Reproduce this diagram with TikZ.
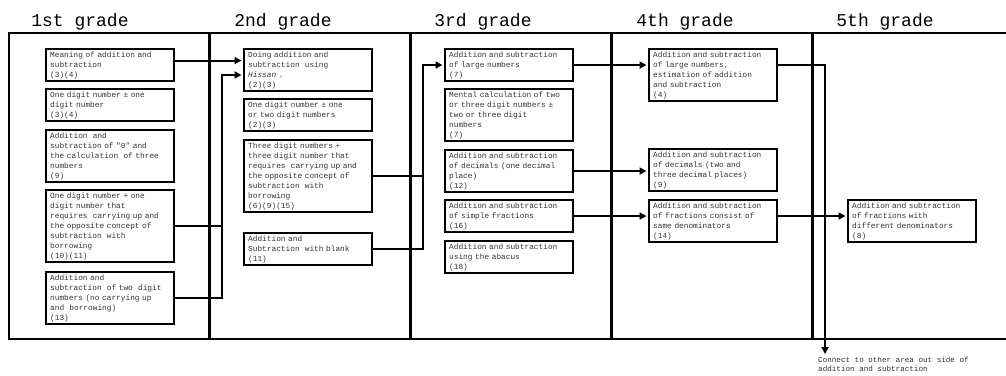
\documentclass[tikz,border=0pt]{standalone}
\usepackage{fontspec}
\setmonofont{Liberation Mono}
\usetikzlibrary{arrows.meta}
\tikzset{topic/.style = {draw, line width = 2.4pt, anchor = north west, text width = 120pt, align = left, inner xsep = 4pt, inner ysep = 2.2pt, text = black!80, font = \ttfamily\fontsize{7.8pt}{10pt}\selectfont}}
\tikzset{grade/.style = {anchor = base, inner sep = 0pt, font = \ttfamily\fontsize{18pt}{20pt}\selectfont}}
\tikzset{note/.style = {anchor = north west, inner sep = 0pt, align = left, text = black!80, font = \ttfamily\fontsize{7.6pt}{9pt}\selectfont}}
\tikzset{link/.style = {line width = 2pt}}
\tikzset{flow/.style = {line width = 2pt, -{Triangle[length = 7pt, width = 7pt]}, shorten > = 1.5pt}}

\begin{document}
\begin{tikzpicture}[x = 1pt, y = -1pt]
      \useasboundingbox (0, 0) rectangle (1006, 375);
      \draw [line width = 2pt] (1006, 33) -- (9, 33) -- (9, 339) -- (1006, 339);
      \foreach \x in {209, 410, 611, 812} {
        \draw [line width = 3pt] (\x, 33) -- (\x, 339);
      }
      \foreach \x/\t [count = \i] in {80/1st, 283/2nd, 483/3rd, 685/4th, 885/5th} {
        \node [grade] (grade\i) at (\x, 26) {\t\ grade};
      }

      \node [topic] (A1) at (45, 48) {Meaning of addition and\\subtraction\\(3)(4)};
      \node [topic] (A2) at (45, 88) {One digit number ± one\\digit number\\(3)(4)};
      \node [topic] (A3) at (45, 129) {Addition~ and\\subtraction of "0" and\\the calculation~ of three\\numbers\\(9)};
      \node [topic] (A4) at (45, 189) {One digit number + one\\digit number that\\requires~ carrying up and\\the opposite concept of\\subtraction~ with\\borrowing\\(10)(11)};
      \node [topic] (A5) at (45, 271) {Addition and\\subtraction~ of two~ digit\\numbers (no carrying up\\and~ borrowing)\\(13)};

      \node [topic] (B1) at (243, 48) {Doing addition and\\subtraction~ using\\\textit{Hissan} .\\(2)(3)};
      \node [topic] (B2) at (243, 98) {One digit number ± one\\or two digit numbers\\(2)(3)};
      \node [topic] (B3) at (243, 139) {Three digit numbers +\\three digit number that\\requires~ carrying up and\\the opposite concept of\\subtraction~ with\\borrowing\\(6)(9)(15)};
      \node [topic] (B4) at (243, 232) {Addition and\\Subtraction~ with blank\\(11)};

      \node [topic] (C1) at (444, 48) {Addition and subtraction\\of large numbers\\(7)};
      \node [topic] (C2) at (444, 88) {Mental calculation of two\\or three digit numbers ±\\two or three digit\\numbers\\(7)};
      \node [topic] (C3) at (444, 149) {Addition and subtraction\\of decimals (one decimal\\place)\\(12)};
      \node [topic] (C4) at (444, 199) {Addition and subtraction\\of simple fractions\\(16)};
      \node [topic] (C5) at (444, 240) {Addition and subtraction\\using the abacus\\(18)};

      \node [topic] (D1) at (648, 48) {Addition and subtraction\\of large numbers,\\estimation of addition\\and subtraction\\(4)};
      \node [topic] (D2) at (648, 148) {Addition and subtraction\\of decimals (two and\\three decimal places)\\(9)};
      \node [topic] (D3) at (648, 199) {Addition and subtraction\\of fractions consist of\\same denominators\\(14)};

      \node [topic] (E1) at (847, 199) {Addition and subtraction\\of fractions with\\different denominators\\(8)};

      \coordinate (j1) at (222, 75);
      \coordinate (j2) at (423, 0);
      \coordinate (out) at (825, 354);

      \draw [flow] ([yshift = 4.5pt]A1.east) -- ([yshift = 4.5pt]A1.east -| B1.west);
      \draw [link] (A4.east) -- (A4.east -| j1);
      \draw [flow] (A5.east) -| (j1) -- (j1 -| B1.west);

      \draw [link] (B3.east) -- (B3.east -| j2);
      \draw [flow] (B4.east) -| (j2 |- C1.west) -- (C1.west);

      \draw [flow] (C1.east) -- (C1.east -| D1.west);
      \draw [flow] (C3.east) -- (C3.east -| D2.west);
      \draw [flow] (C4.east) -- (C4.east -| D3.west);
      \draw [flow] (C4.east -| D3.east) -- (C4.east -| E1.west);
      \draw [flow, line width = 1.7pt, shorten > = 0pt] (C1.east -| D1.east) -| (out);

      \node [note] (outnote) at (818, 357) {Connect to other area out side of\\addition and subtraction};
    \end{tikzpicture}
\end{document}
